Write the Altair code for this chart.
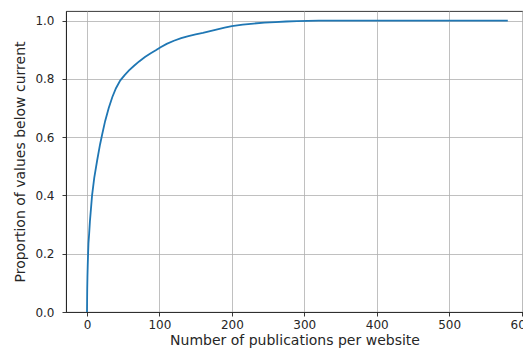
import altair as alt
import pandas as pd

publications = [0, 0.1, 0.3, 0.6, 1, 1.5, 2, 3, 4, 5, 7, 10, 14, 18, 21, 25, 30, 35, 40, 46, 52, 58, 65, 72, 80, 88, 95, 101, 110, 120, 130, 140, 150, 160, 170, 180, 190, 200, 215, 230, 245, 260, 275, 290, 305, 320, 350, 400, 450, 500, 540, 581]
proportion = [0, 0.03, 0.08, 0.12, 0.16, 0.20, 0.235, 0.27, 0.31, 0.34, 0.40, 0.46, 0.52, 0.575, 0.61, 0.655, 0.70, 0.738, 0.768, 0.795, 0.813, 0.829, 0.845, 0.86, 0.875, 0.888, 0.898, 0.908, 0.92, 0.931, 0.94, 0.947, 0.953, 0.958, 0.964, 0.97, 0.976, 0.981, 0.986, 0.99, 0.993, 0.995, 0.997, 0.998, 0.999, 1.0, 1.0, 1.0, 1.0, 1.0, 1.0, 1.0]

df = pd.DataFrame({"x": publications, "y": proportion})

chart = alt.Chart(df).mark_line(color="#1f77b4", strokeWidth=1.8).encode(
    x=alt.X("x:Q", title="Number of publications per website",
            scale=alt.Scale(domain=[-29, 602], nice=False, zero=False),
            axis=alt.Axis(values=[0, 100, 200, 300, 400, 500, 600], format="d")),
    y=alt.Y("y:Q", title="Proportion of values below current",
            scale=alt.Scale(domain=[0, 1.033], nice=False),
            axis=alt.Axis(values=[0, 0.2, 0.4, 0.6, 0.8, 1.0], format=".1f")),
).properties(
    width=457, height=301,
    autosize=alt.AutoSizeParams(type="none"),
    padding={"left": 58, "top": 3, "right": 0, "bottom": 38},
).configure_view(
    stroke="#222222", strokeWidth=0.9
).configure_axis(
    grid=True, gridColor="#b0b0b0", gridWidth=0.8,
    domainColor="#222222", domainWidth=0.9,
    tickColor="#222222", tickSize=4, tickWidth=0.9,
    labelFont="DejaVu Sans", labelFontSize=12, labelColor="#262626",
    titleFont="DejaVu Sans", titleFontSize=14, titleFontWeight="normal", titleColor="#262626",
).configure_axisY(
    labelPadding=8,
    titlePadding=7,
).configure_axisX(
    labelPadding=3,
    titlePadding=3,
)

chart.save("out.html", embed_options={"renderer": "svg", "actions": False})
